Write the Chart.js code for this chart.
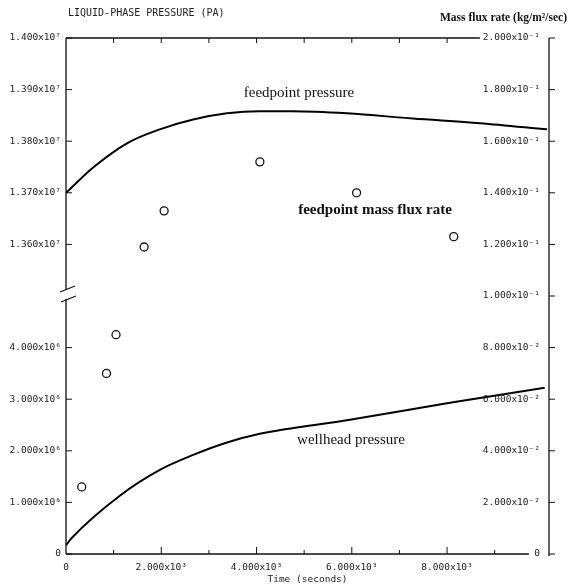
<!DOCTYPE html>
<html>
<head>
<meta charset="utf-8">
<script src="https://cdn.jsdelivr.net/npm/chart.js@4.4.1/dist/chart.umd.min.js"></script>
<style>
  html, body { margin: 0; padding: 0; background: #fff; }
  canvas { display: block; }
</style>
</head>
<body>
<canvas id="presion" width="569" height="586"></canvas>
<script>
// Presión en el punto de alimentación (Pa) vs tiempo (s)
const feedTime = [0, 570, 1280, 1970, 2670, 3380, 4070, 4760, 5900, 7280, 8690, 10100];
const feedPressure = [1.3700e7, 1.3749e7, 1.3796e7, 1.3823e7, 1.3842e7, 1.3854e7, 1.3858e7, 1.3858e7, 1.3854e7, 1.3844e7, 1.3835e7, 1.3823e7];

// Presión en cabeza de pozo (Pa)
const wellTime = [0, 120, 1130, 1970, 2670, 3380, 4070, 5960, 8060, 10050];
const wellPressure = [0.17e6, 0.31e6, 1.13e6, 1.63e6, 1.92e6, 2.16e6, 2.33e6, 2.60e6, 2.93e6, 3.22e6];

// Flujo másico en el punto de alimentación (kg/m2/s)
const fluxTime = [330, 850, 1050, 1640, 2060, 4070, 6100, 8140];
const fluxRate = [0.026, 0.070, 0.085, 0.119, 0.133, 0.152, 0.140, 0.123];

// Marcas de los ejes
const timeTicks = [0, 2000, 4000, 6000, 8000];
const pressureTicksLow = [0, 1e6, 2e6, 3e6, 4e6];
const pressureTicksHigh = [1.36e7, 1.37e7, 1.38e7, 1.39e7, 1.40e7];
const fluxTicks = [0, 0.02, 0.04, 0.06, 0.08, 0.10, 0.12, 0.14, 0.16, 0.18, 0.20];

// Eje izquierdo partido: 0..5e6 abajo, 1.35e7..1.40e7 arriba
const toAxis = p => p >= 1.3e7 ? 5 + (p - 1.35e7) / 1e5 : p / 1e6;
const fromAxis = u => u > 5 ? 1.35e7 + (u - 5) * 1e5 : u * 1e6;

const sup = { '0': '⁰', '1': '¹', '2': '²', '3': '³', '4': '⁴', '5': '⁵', '6': '⁶', '7': '⁷', '8': '⁸', '9': '⁹', '-': '⁻' };
function sci(v) {
  if (Math.abs(v) < 1e-12) return '0';
  const e = Math.floor(Math.log10(v) + 1e-9);
  const m = v / Math.pow(10, e);
  return m.toFixed(3) + 'x10' + String(e).split('').map(c => sup[c]).join('');
}

const plotFont = { family: '"DejaVu Sans Mono", monospace', size: 9.5 };
const ink = '#222';

// Marco, marcas y corte del eje izquierdo
const frame = {
  id: 'frame',
  beforeDatasetsDraw(chart) {
    const { ctx, scales: { x, y, y1 } } = chart;
    const left = x.getPixelForValue(0);
    const top = y.getPixelForValue(10);
    const bottom = y.getPixelForValue(0);
    const right = y1.left;
    const brk = y.getPixelForValue(5);
    ctx.save();
    ctx.strokeStyle = '#111';
    ctx.lineWidth = 1.3;
    ctx.beginPath();
    // eje izquierdo con corte
    ctx.moveTo(left, top); ctx.lineTo(left, brk - 6);
    ctx.moveTo(left, brk + 3); ctx.lineTo(left, bottom);
    // borde superior
    ctx.moveTo(left, top); ctx.lineTo(x.getPixelForValue(8690), top);
    // eje inferior
    ctx.moveTo(left, bottom); ctx.lineTo(x.getPixelForValue(9720), bottom);
    // eje derecho
    ctx.moveTo(right, top); ctx.lineTo(right, bottom + 2);
    ctx.stroke();

    ctx.lineWidth = 1;
    ctx.beginPath();
    for (let t = 1000; t <= 9000; t += 1000) {
      const px = x.getPixelForValue(t);
      const len = t % 2000 === 0 ? 7 : 4;
      ctx.moveTo(px, bottom); ctx.lineTo(px, bottom - len);
      if (t <= 8000) { ctx.moveTo(px, top); ctx.lineTo(px, top + 5); }
    }
    [...pressureTicksLow, ...pressureTicksHigh].forEach(p => {
      const py = y.getPixelForValue(toAxis(p));
      ctx.moveTo(left, py); ctx.lineTo(left + 6, py);
    });
    fluxTicks.forEach(f => {
      const py = y1.getPixelForValue(f);
      ctx.moveTo(right, py); ctx.lineTo(right + 6, py);
    });
    ctx.stroke();

    // rayas del corte
    ctx.lineWidth = 1.2;
    ctx.beginPath();
    ctx.moveTo(left - 6, brk - 4); ctx.lineTo(left + 9, brk - 10);
    ctx.moveTo(left - 5, brk + 6); ctx.lineTo(left + 10, brk);
    ctx.stroke();
    ctx.restore();
  },
  afterDraw(chart) {
    const { ctx } = chart;
    ctx.save();
    ctx.fillStyle = ink;
    ctx.textBaseline = 'middle';
    ctx.font = '10px "DejaVu Sans Mono", monospace';
    ctx.textAlign = 'left';
    ctx.fillText('LIQUID-PHASE PRESSURE (PA)', 68, 13);

    ctx.fillStyle = '#111';
    ctx.font = 'bold 11.5px "Liberation Serif", serif';
    ctx.textAlign = 'right';
    ctx.fillText('Mass flux rate (kg/m²/sec)', 567, 18);

    ctx.textAlign = 'center';
    ctx.font = '15px "Liberation Serif", serif';
    ctx.fillText('feedpoint pressure', 299, 93);
    ctx.fillText('wellhead pressure', 351, 440);
    ctx.font = 'bold 15px "Liberation Serif", serif';
    ctx.fillText('feedpoint mass flux rate', 375, 210);
    ctx.restore();
  }
};

const ctx = document.getElementById('presion').getContext('2d');

const chart = new Chart(ctx, {
  type: 'scatter',
  data: {
    datasets: [
      {
        label: 'feedpoint pressure',
        data: feedTime.map((t, i) => ({ x: t, y: toAxis(feedPressure[i]) })),
        yAxisID: 'y',
        showLine: true,
        borderColor: '#000',
        borderWidth: 2,
        pointRadius: 0,
        cubicInterpolationMode: 'monotone',
      },
      {
        label: 'wellhead pressure',
        data: wellTime.map((t, i) => ({ x: t, y: toAxis(wellPressure[i]) })),
        yAxisID: 'y',
        showLine: true,
        borderColor: '#000',
        borderWidth: 2,
        pointRadius: 0,
        cubicInterpolationMode: 'monotone',
      },
      {
        label: 'feedpoint mass flux rate',
        data: fluxTime.map((t, i) => ({ x: t, y: fluxRate[i] })),
        yAxisID: 'y1',
        showLine: false,
        borderColor: '#111',
        backgroundColor: '#fff',
        borderWidth: 1.3,
        pointRadius: 4,
      },
    ],
  },
  options: {
    responsive: false,
    animation: false,
    devicePixelRatio: 1,
    layout: { padding: { top: 38, left: 0, right: 0, bottom: 0 } },
    plugins: { legend: { display: false }, tooltip: { enabled: false } },
    scales: {
      x: {
        type: 'linear',
        min: 0,
        max: 10140,
        grid: { display: false, drawTicks: false },
        border: { display: false },
        afterBuildTicks: s => { s.ticks = timeTicks.map(v => ({ value: v })); },
        afterFit: s => { s.height = 32; },
        ticks: {
          font: plotFont, color: ink, padding: 8, maxRotation: 0, autoSkip: false,
          callback: v => sci(v),
        },
        title: { display: true, text: 'Time (seconds)', font: plotFont, color: ink, padding: { top: 0, bottom: 1 } },
      },
      y: {
        type: 'linear',
        position: 'left',
        min: 0,
        max: 10,
        grid: { display: false, drawTicks: false },
        border: { display: false },
        afterBuildTicks: s => {
          s.ticks = [...pressureTicksLow, ...pressureTicksHigh].map(p => ({ value: toAxis(p) }));
        },
        afterFit: s => { s.width = 66; },
        ticks: { font: plotFont, color: ink, padding: 5, autoSkip: false, callback: v => sci(fromAxis(v)) },
      },
      y1: {
        type: 'linear',
        position: 'right',
        min: 0,
        max: 0.2,
        grid: { display: false, drawTicks: false },
        border: { display: false },
        afterBuildTicks: s => { s.ticks = fluxTicks.map(v => ({ value: v })); },
        afterFit: s => { s.width = 20; },
        // con mirror en el eje derecho la etiqueta queda en left + padding
        ticks: { font: plotFont, color: ink, padding: -9, mirror: true, autoSkip: false, callback: v => sci(v) },
      },
    },
  },
  plugins: [frame],
});
</script>
</body>
</html>
